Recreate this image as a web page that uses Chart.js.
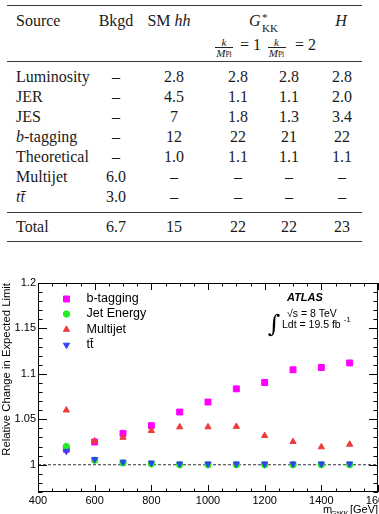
<!DOCTYPE html>
<html><head><meta charset="utf-8">
<script src="https://cdn.jsdelivr.net/npm/chart.js@4.4.1/dist/chart.umd.min.js"></script>
<style>
html,body{margin:0;padding:0;background:#fff;overflow:hidden;width:379px;height:514px;}
#page{position:relative;width:379px;height:514px;overflow:hidden;font-family:'Liberation Serif','Times New Roman',serif;font-size:16px;color:#1a1a1a;}
.t{position:absolute;white-space:nowrap;line-height:1;}
.c{transform:translate(-50%,-50%);}
.l{transform:translate(0,-50%);}
.rule{position:absolute;left:7px;width:355px;height:1.3px;background:#3a3a3a;}
#wrap{position:absolute;left:0;top:262px;width:400px;height:252px;}
</style></head>
<body><div id="page"><div id="table"></div><div id="wrap"><canvas id="c" width="400" height="252"></canvas></div></div>
<script>
// ---------- table data ----------
const tableSources = ['Luminosity','JER','JES','b-tagging','Theoretical','Multijet','tt\u0304'];
const colBkgd = ['–','–','–','–','–','6.0','3.0'];
const colSMhh = ['2.8','4.5','7','12','1.0','–','–'];
const colGkk1 = ['2.8','1.1','1.8','22','1.1','–','–'];
const colGkk2 = ['2.8','1.1','1.3','21','1.1','–','–'];
const colH    = ['2.8','2.0','3.4','22','1.1','–','–'];
const totalRow = ['Total','6.7','15','22','22','23'];

// ---------- chart data ----------
const masses    = [500,600,700,800,900,1000,1100,1200,1300,1400,1500];
const bTagging  = [1.017,1.025,1.0345,1.043,1.058,1.069,1.0835,1.0905,1.1045,1.107,1.112];
const jetEnergy = [1.020,1.005,1.002,1.001,1.000,1.000,1.000,1.000,1.000,1.000,1.000];
const multijet  = [1.060,1.026,1.030,1.0375,1.0415,1.0415,1.042,1.032,1.0254,1.0195,1.0224];
const ttbar     = [1.015,1.006,1.003,1.002,1.001,1.001,1.001,1.001,1.001,1.001,1.001];
const xTickLabels = [400,600,800,1000,1200,1400,1600];
const yTickLabels = [1,1.05,1.1,1.15,1.2];
const seriesNames = ['b-tagging','Jet Energy','Multijet','tt\u0304'];

// ---------- table ----------
const tbl = document.getElementById('table');
function put(html,x,y,cls,style){const s=document.createElement('span');s.className='t '+cls;s.style.left=x+'px';s.style.top=y+'px';if(style)s.style.cssText+=style;s.innerHTML=html;tbl.appendChild(s);}
function rule(y){const d=document.createElement('div');d.className='rule';d.style.top=y+'px';tbl.appendChild(d);}
function fmtSource(s){ if(s.startsWith('b-')) return '<i>b</i>'+s.slice(1); if(s.startsWith('tt')) return '<i>'+s+'</i>'; return s; }
rule(5); rule(60.5); rule(211.5); rule(240.5);
put('Source',16,21,'l'); put('Bkgd',116,21,'c'); put('SM <i>hh</i>',169,21,'c');
put('<i>G</i>',249,21,'l'); put('*',262,17,'l','font-size:11px'); put('KK',262,27.5,'l','font-size:11px');
put('<i>H</i>',341,21,'c');
function frac(cx){
  put('<i>k</i>',cx,41.5,'c','font-size:11px');
  const b=document.createElement('div');b.style.cssText='position:absolute;top:46.5px;height:0.8px;background:#222;left:'+(cx-9)+'px;width:18px';tbl.appendChild(b);
  put('<i>M</i><span style="font-size:7.5px">Pl</span>',cx,53,'c','font-size:11px');
}
frac(224); put('= 1',240,45,'l'); frac(276.5); put('= 2',295,45,'l');
tableSources.forEach((s,i)=>{const y=77+20*i;
  put(fmtSource(s),16,y,'l'); put(colBkgd[i],116,y,'c'); put(colSMhh[i],174,y,'c');
  put(colGkk1[i],238,y,'c'); put(colGkk2[i],289,y,'c'); put(colH[i],342,y,'c');});
[16,116,174,238,289,342].forEach((x,j)=>put(totalRow[j],x,227,j===0?'l':'c'));

// ---------- chart ----------
const colors=['#ff00ff','#22ee22','#ee3b3b','#3344ee'];
const styles=[['rect',4.2,0],['circle',3.2,0],['triangle',3.6,0],['triangle',3.6,180]];
const seriesData=[bTagging,jetEnergy,multijet,ttbar];
const orders=[3,2,1,0];
const datasets=seriesData.map((ys,k)=>({label:seriesNames[k],data:masses.map((m,i)=>({x:m,y:ys[i]})),
  backgroundColor:colors[k],borderColor:colors[k],borderWidth:1,pointStyle:styles[k][0],pointRadius:styles[k][1],
  pointRotation:styles[k][2],showLine:false,order:orders[k]}));
datasets.push({label:'ref',data:[{x:400,y:1},{x:1600,y:1}],showLine:true,borderColor:'#333',borderWidth:1,borderDash:[3,2],pointRadius:0,order:10});

function marker(ctx,style,r,rot,x,y,color){
  ctx.fillStyle=color;ctx.strokeStyle=color;ctx.lineWidth=1;ctx.beginPath();
  if(style==='rect'){const s=Math.SQRT1_2*r;ctx.rect(x-s,y-s,2*s,2*s);}
  else if(style==='circle'){ctx.arc(x,y,r,0,Math.PI*2);}
  else{let a=rot*Math.PI/180;ctx.moveTo(x+Math.sin(a)*r,y-Math.cos(a)*r);for(let i=0;i<2;i++){a+=2*Math.PI/3;ctx.lineTo(x+Math.sin(a)*r,y-Math.cos(a)*r);}ctx.closePath();}
  ctx.fill();ctx.stroke();
}
const SANS="'Liberation Sans', Arial, sans-serif";
const deco={id:'deco',
  afterDatasetsDraw(chart){
    const {ctx,chartArea:a,scales:{x,y}}=chart;
    ctx.save();ctx.strokeStyle='#000';ctx.lineWidth=1;
    ctx.strokeRect(Math.round(a.left)+0.5,Math.round(a.top)+0.5,Math.round(a.right-a.left)-1,Math.round(a.bottom-a.top)-1);
    ctx.beginPath();
    for(let v=400;v<=1600;v+=50){const p=Math.round(x.getPixelForValue(v))+0.5;const L=(v%200===0)?7:3.5;
      ctx.moveTo(p,a.bottom);ctx.lineTo(p,a.bottom-L);ctx.moveTo(p,a.top);ctx.lineTo(p,a.top+L);}
    for(let k=97;k<=120;k++){const p=Math.round(y.getPixelForValue(k/100))+0.5;const L=(k%5===0)?9:4.5;
      ctx.moveTo(a.left,p);ctx.lineTo(a.left+L,p);ctx.moveTo(a.right,p);ctx.lineTo(a.right-L,p);}
    ctx.stroke();
    // y title
    ctx.fillStyle='#000';ctx.font='11.3px '+SANS;ctx.save();ctx.translate(7,a.top);ctx.rotate(-Math.PI/2);
    ctx.textAlign='right';ctx.textBaseline='middle';ctx.fillText('Relative Change in Expected Limit',0,0);ctx.restore();
    // x title
    ctx.textAlign='left';ctx.textBaseline='alphabetic';ctx.font='11px '+SANS;
    ctx.fillText('m',323,251);ctx.font='7px '+SANS;ctx.fillText('G*KK',331,254);ctx.font='11px '+SANS;ctx.fillText('[GeV]',350,251);
    // legend
    const ly=[37,52,67.5,83];
    seriesNames.forEach((n,k)=>{marker(ctx,styles[k][0],styles[k][1],styles[k][2],66.5,ly[k],colors[k]);
      ctx.fillStyle='#000';ctx.font='12.5px '+SANS;ctx.textBaseline='middle';ctx.textAlign='left';ctx.fillText(n,86.5,ly[k]);});
    // ATLAS label
    ctx.fillStyle='#000';ctx.textBaseline='middle';
    ctx.font='bold italic 11px '+SANS;ctx.fillText('ATLAS',287,36);
    ctx.font='10.5px '+SANS;ctx.fillText('\u221As = 8 TeV',287,52);
    ctx.fillText('Ldt = 19.5 fb',282,63);ctx.font='7.5px '+SANS;ctx.fillText('-1',344,58);
    ctx.font='24px "DejaVu Serif"';ctx.textAlign='center';ctx.fillText('\u222B',274,64);
    ctx.restore();
  }};

new Chart(document.getElementById('c'),{type:'scatter',data:{datasets},
  options:{responsive:false,animation:false,devicePixelRatio:1,
    layout:{padding:{top:21,right:22,left:0,bottom:0}},
    plugins:{legend:{display:false},tooltip:{enabled:false}},
    scales:{
      x:{type:'linear',min:400,max:1600,grid:{display:false,drawTicks:false},border:{display:false},
        afterBuildTicks:s=>{s.ticks=xTickLabels.map(v=>({value:v}));},afterFit:s=>{s.height=22;},
        ticks:{padding:2,color:'#000',font:{family:SANS,size:11},maxRotation:0,autoSkip:false,callback:v=>String(v)}},
      y:{type:'linear',min:0.97,max:1.2,grid:{display:false,drawTicks:false},border:{display:false},
        afterBuildTicks:s=>{s.ticks=yTickLabels.map(v=>({value:v}));},afterFit:s=>{s.width=38;},
        ticks:{padding:2,color:'#000',font:{family:SANS,size:11},autoSkip:false,callback:v=>String(+v.toFixed(2))}}
    }},
  plugins:[deco]});
</script></body></html>
